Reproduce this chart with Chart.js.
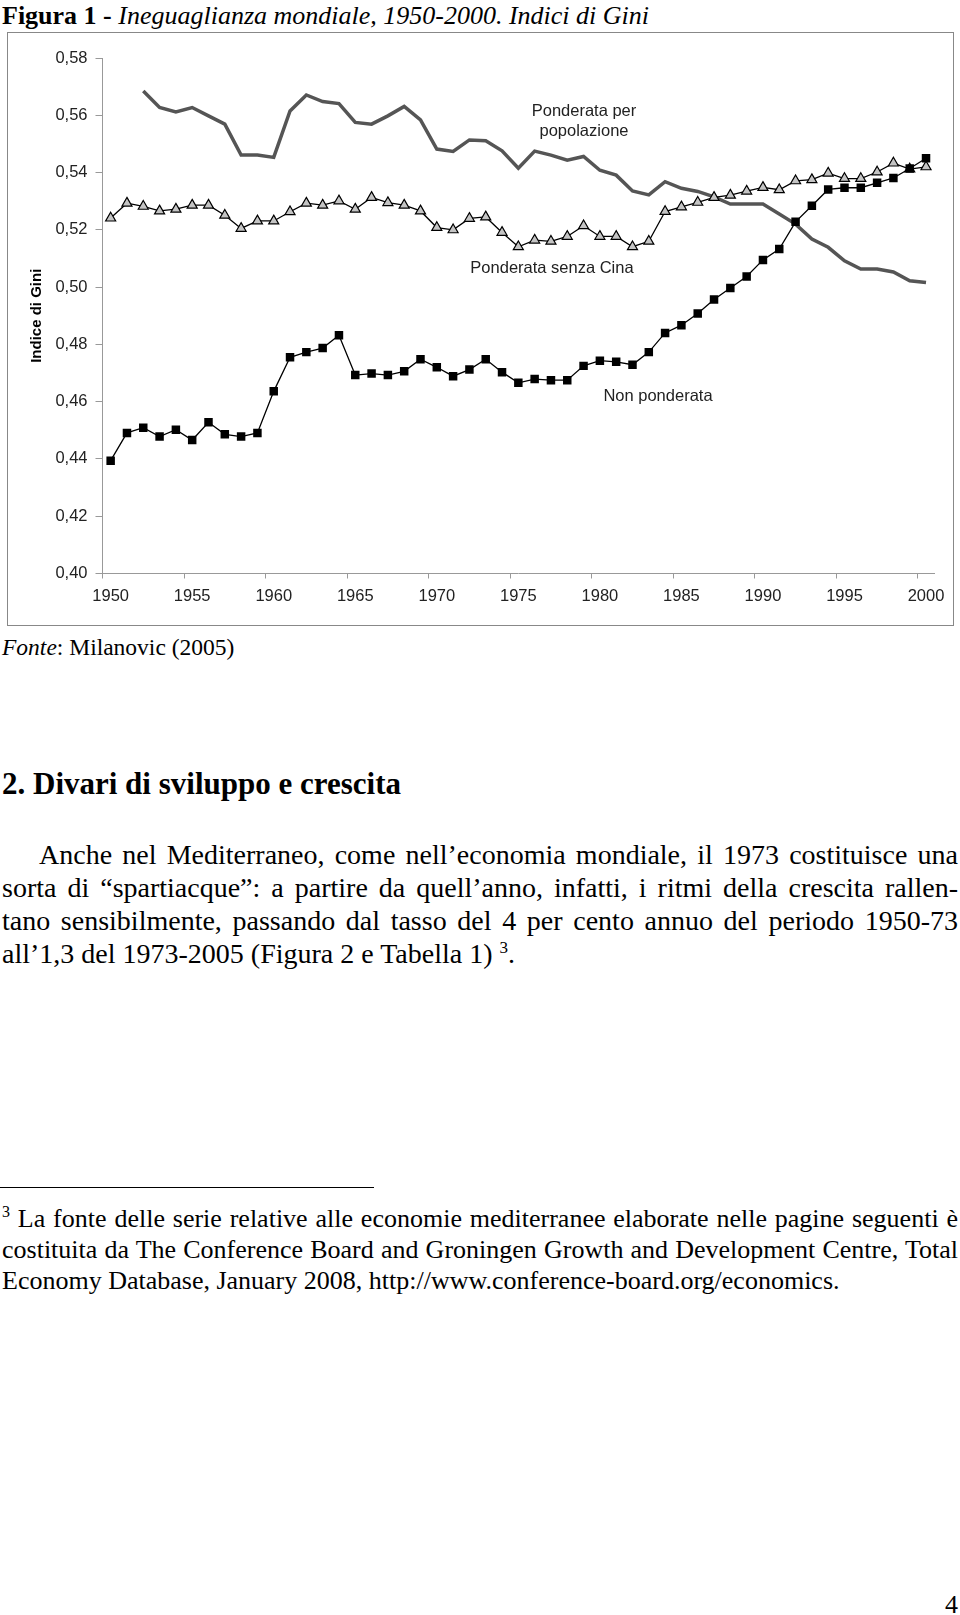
<!DOCTYPE html>
<html>
<head>
<meta charset="utf-8">
<script src="https://cdn.jsdelivr.net/npm/chart.js@4"></script>
<style>
body { margin: 0; background: #fff; }
#page { position: relative; width: 960px; height: 1615px; font-family: "Liberation Serif", serif; color: #000; }
.t { position: absolute; white-space: nowrap; }
#frame { position: absolute; left: 7px; top: 32px; width: 947px; height: 594px; border: 1px solid #888; box-sizing: border-box; }
#chart { position: absolute; left: 0; top: 0; }
.lab { position: absolute; font-family: "Liberation Sans", Arial, sans-serif; font-size: 16.5px; line-height: 20px; color: #222; text-align: center; white-space: nowrap; transform: translateX(-50%); }
.jl { position: absolute; left: 2px; width: 956px; text-align: justify; text-align-last: justify; white-space: nowrap; }
.ll { position: absolute; left: 2px; white-space: nowrap; }
</style>
</head>
<body>
<div id="page">
  <div class="t" style="left:2px; top:2px; font-size:26px; line-height:28px;"><b>Figura 1 -</b> <i>Ineguaglianza mondiale, 1950-2000. Indici di Gini</i></div>

  <div id="frame"><canvas id="chart" width="945" height="592"></canvas></div>
  <div class="lab" style="left:584px; top:100px;">Ponderata per<br>popolazione</div>
  <div class="lab" style="left:552px; top:257px;">Ponderata senza Cina</div>
  <div class="lab" style="left:658px; top:385px;">Non ponderata</div>

  <div class="t" style="left:2px; top:633px; font-size:23.5px; line-height:28px;"><i>Fonte</i>: Milanovic (2005)</div>

  <div class="t" style="left:2px; top:768px; font-size:31px; line-height:32px; font-weight:bold;">2. Divari di sviluppo e crescita</div>

  <div style="font-size:28px; line-height:33px;">
    <div class="jl" style="top:838px; padding-left:37px; width:919px;">Anche nel Mediterraneo, come nell’economia mondiale, il 1973 costituisce una</div>
    <div class="jl" style="top:871px;">sorta di “spartiacque”: a partire da quell’anno, infatti, i ritmi della crescita rallen-</div>
    <div class="jl" style="top:904px;">tano sensibilmente, passando dal tasso del 4 per cento annuo del periodo 1950-73</div>
    <div class="ll" style="top:937px;">all’1,3 del 1973-2005 (Figura 2 e Tabella 1) <sup style="font-size:17px; line-height:0;">3</sup>.</div>
  </div>

  <div style="position:absolute; left:0; top:1187px; width:374px; height:1px; background:#000;"></div>

  <div style="font-size:26px; line-height:31px;">
    <div class="jl" style="top:1203px;"><sup style="font-size:16px; line-height:0;">3</sup> La fonte delle serie relative alle economie mediterranee elaborate nelle pagine seguenti è</div>
    <div class="jl" style="top:1234px;">costituita da The Conference Board and Groningen Growth and Development Centre, Total</div>
    <div class="ll" style="top:1265px;">Economy Database, January 2008, http://www.conference-board.org/economics.</div>
  </div>

  <div class="t" style="right:2px; top:1590px; font-size:26px; line-height:30px;">4</div>
</div>

<script>
// anni (categorie)
var years = ["1950","1951","1952","1953","1954","1955","1956","1957","1958","1959",
  "1960","1961","1962","1963","1964","1965","1966","1967","1968","1969",
  "1970","1971","1972","1973","1974","1975","1976","1977","1978","1979",
  "1980","1981","1982","1983","1984","1985","1986","1987","1988","1989",
  "1990","1991","1992","1993","1994","1995","1996","1997","1998","1999","2000"];

// Non ponderata (quadrati neri)
var nonPonderata = [0.4394,0.4491,0.4509,0.4478,0.4502,0.4466,0.4528,0.4486,0.4478,0.4491,
  0.4636,0.4755,0.4773,0.4787,0.4832,0.4693,0.4698,0.4693,0.4706,0.4748,
  0.4720,0.4689,0.4712,0.4748,0.4703,0.4666,0.4679,0.4675,0.4675,0.4725,
  0.4743,0.4739,0.4729,0.4773,0.4840,0.4867,0.4908,0.4957,0.4997,0.5037,
  0.5095,0.5133,0.5228,0.5284,0.5341,0.5347,0.5347,0.5364,0.5381,0.5414,0.5450];

// Ponderata senza Cina (triangoli)
var senzaCina = [0.5241,0.5293,0.5282,0.5266,0.5272,0.5286,0.5286,0.5251,0.5205,0.5231,
  0.5231,0.5263,0.5293,0.5286,0.5301,0.5272,0.5313,0.5295,0.5286,0.5266,
  0.5208,0.5200,0.5240,0.5245,0.5191,0.5141,0.5164,0.5160,0.5177,0.5214,
  0.5177,0.5177,0.5141,0.5160,0.5264,0.5280,0.5296,0.5313,0.5321,0.5335,
  0.5348,0.5340,0.5371,0.5375,0.5398,0.5379,0.5379,0.5402,0.5433,0.5412,0.5420];

// Ponderata per popolazione (linea grigia), dal 1952
var perPopolazione = [null,null,0.5685,0.5627,0.5612,0.5627,0.5598,0.5569,0.5461,0.5461,
  0.5453,0.5615,0.5671,0.5648,0.5641,0.5575,0.5569,0.5598,0.5631,0.5584,
  0.5482,0.5474,0.5514,0.5511,0.5476,0.5415,0.5475,0.5461,0.5443,0.5456,
  0.5408,0.5391,0.5336,0.5322,0.5368,0.5345,0.5334,0.5315,0.5290,0.5290,
  0.5290,0.5255,0.5220,0.5168,0.5139,0.5092,0.5063,0.5063,0.5053,0.5022,0.5016];

var yMin = 0.40, yMax = 0.58, yStep = 0.02;
var axisGray = '#999';

var ctx = document.getElementById('chart').getContext('2d');
var myChart = new Chart(ctx, {
  type: 'line',
  data: {
    labels: years,
    datasets: [{
      label: 'Non ponderata',
      data: nonPonderata,
      borderColor: '#000',
      borderWidth: 1.3,
      pointStyle: 'rect',
      pointRadius: 6,
      pointBackgroundColor: '#000',
      pointBorderColor: '#000',
      pointBorderWidth: 0,
      order: 1
    }, {
      label: 'Ponderata senza Cina',
      data: senzaCina,
      borderColor: '#000',
      borderWidth: 1.3,
      pointStyle: 'triangle',
      pointRadius: 5.8,
      pointBackgroundColor: '#c4c4c4',
      pointBorderColor: '#000',
      pointBorderWidth: 1.2,
      order: 2
    }, {
      label: 'Ponderata per popolazione',
      data: perPopolazione,
      borderColor: '#555',
      borderWidth: 3.5,
      pointRadius: 0,
      spanGaps: false,
      order: 3
    }]
  },
  options: {
    responsive: false,
    animation: false,
    devicePixelRatio: 1,
    layout: { padding: { left: 0, top: 25, right: 12, bottom: 0 } },
    plugins: { legend: { display: false }, tooltip: { enabled: false } },
    elements: { line: { tension: 0 } },
    scales: {
      x: {
        type: 'category',
        offset: true,
        afterFit: function(s){ s.height = 51.5; },
        grid: {
          offset: true,
          drawOnChartArea: false,
          tickLength: 5,
          color: function(c){ return c.index % 5 === 0 ? axisGray : 'rgba(0,0,0,0)'; },
          tickColor: function(c){ return c.index % 5 === 0 ? axisGray : 'rgba(0,0,0,0)'; }
        },
        border: { color: axisGray, width: 1 },
        ticks: {
          autoSkip: false,
          maxRotation: 0,
          padding: 8.5,
          color: '#222',
          font: { family: 'Liberation Sans', size: 16.5 },
          callback: function(v, i){ return i % 5 === 0 ? years[i] : ''; }
        }
      },
      y: {
        min: yMin,
        max: yMax,
        afterFit: function(s){ s.width = 94.5; },
        grid: { drawOnChartArea: false, tickLength: 7, color: axisGray, tickColor: axisGray },
        border: { color: axisGray, width: 1 },
        ticks: {
          stepSize: yStep,
          padding: 8,
          color: '#222',
          font: { family: 'Liberation Sans', size: 16.5 },
          callback: function(v){ return v.toFixed(2).replace('.', ','); }
        },
        title: {
          display: true,
          text: 'Indice di Gini',
          color: '#000',
          padding: { top: 20, bottom: 0 },
          font: { family: 'Liberation Sans', size: 15, weight: 'bold' }
        }
      }
    }
  }
});
</script>
</body>
</html>
